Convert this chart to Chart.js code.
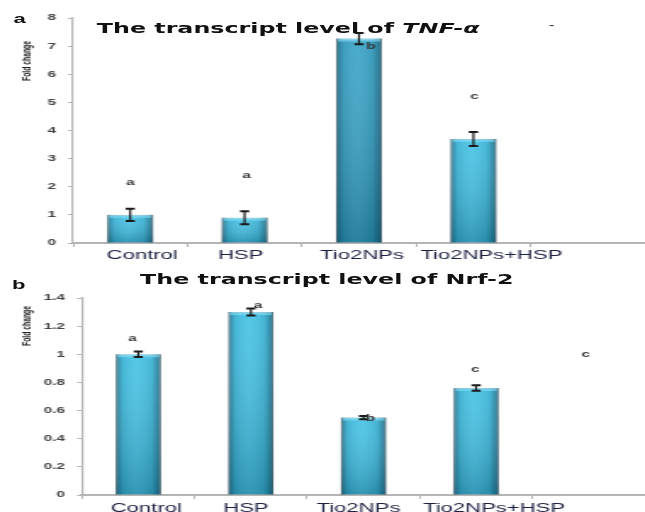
<!DOCTYPE html>
<html>
<head>
<meta charset="utf-8">
<script src="https://cdn.jsdelivr.net/npm/chart.js@4.4.0/dist/chart.umd.min.js"></script>
<style>
html, body { margin: 0; padding: 0; background: #fff; overflow: hidden; }
.panel { position: absolute; left: 0; width: 380px; transform: scaleX(1.6974); transform-origin: 0 0; }
#pa { top: 0; height: 265px; }
#pb { top: 262px; height: 250px; }
.ttl { position: absolute; font: bold 14px "DejaVu Sans"; line-height: 14px; color: #111; white-space: nowrap; z-index: 2; }
.lt { position: absolute; font: bold 13px "Liberation Sans"; line-height: 13px; color: #111; }
</style>
</head>
<body>
<div class="panel" id="pa">
  <canvas id="tnf"></canvas>
  <div class="lt" style="left:8px;top:12px">a</div>
  <div class="ttl" style="left:57px;top:20.5px">The transcript level of <i>TNF-α</i></div>
</div>
<div class="panel" id="pb">
  <canvas id="nrf"></canvas>
  <div class="lt" style="left:7px;top:16px">b</div>
  <div class="ttl" style="left:82.5px;top:10px">The transcript level of Nrf-2</div>
</div>
<script>
var categories = ['Control', 'HSP', 'Tio2NPs', 'Tio2NPs+HSP', ''];
var yTitle = 'Fold change';

// panel a - TNF-alpha
var tnfValues = [1.0, 0.9, 7.27, 3.7, null];
var tnfErrors = [0.22, 0.23, 0.2, 0.25, null];
var tnfLetters = ['a', 'a', 'b', 'c', '-'];
var tnfLetterAt = [2.14, 2.39, 7.0, 5.2, 7.75];
var tnfMax = 8, tnfStep = 1;

// panel b - Nrf-2
var nrfValues = [1.0, 1.3, 0.55, 0.76, null];
var nrfErrors = [0.02, 0.025, 0.012, 0.02, null];
var nrfLetters = ['a', 'a', 'b', 'c', 'c'];
var nrfLetterAt = [1.11, 1.35, 0.54, 0.89, 1.0];
var nrfMax = 1.4, nrfStep = 0.2;

var stretch = 1.6974;
var axisGrey = '#b5b5b5';

function extras(errors, letters, letterAt, letterDx, labelDx, labelDy, titleY) {
    return {
        id: 'extras',
        afterDatasetsDraw: function(chart) {
            var ctx = chart.ctx;
            var ys = chart.scales.y, xs = chart.scales.x;
            var meta = chart.getDatasetMeta(0);
            var vals = chart.data.datasets[0].data;
            ctx.save();
            meta.data.forEach(function(bar, i) {
                if (vals[i] == null) return;
                var p = bar.getProps(['x', 'y', 'base', 'width']);
                var l = p.x - p.width / 2, w = p.width, t = p.y, h = p.base - p.y;
                // cylinder shading
                var g = ctx.createLinearGradient(l, 0, l + w, 0);
                g.addColorStop(0, 'rgba(10,60,80,0.6)');
                g.addColorStop(0.15, 'rgba(10,60,80,0.12)');
                g.addColorStop(0.45, 'rgba(255,255,255,0.06)');
                g.addColorStop(0.8, 'rgba(10,60,80,0.12)');
                g.addColorStop(1, 'rgba(10,60,80,0.65)');
                ctx.fillStyle = g;
                ctx.fillRect(l, t, w, h);
                var gv = ctx.createLinearGradient(0, t, 0, p.base);
                gv.addColorStop(0, 'rgba(255,255,255,0.08)');
                gv.addColorStop(1, 'rgba(0,40,60,0.28)');
                ctx.fillStyle = gv;
                ctx.fillRect(l, t, w, h);
                ctx.fillStyle = 'rgba(140,225,250,0.55)';
                ctx.fillRect(l + 1, t, w - 2, 3);
                // error bar
                var e = errors[i];
                var y1 = ys.getPixelForValue(vals[i] + e), y2 = ys.getPixelForValue(vals[i] - e);
                var cw = 2.7;
                ctx.strokeStyle = '#1a1a1a';
                ctx.lineWidth = 1.2;
                ctx.beginPath();
                ctx.moveTo(p.x, y1); ctx.lineTo(p.x, y2);
                ctx.stroke();
                ctx.lineWidth = 2;
                ctx.beginPath();
                ctx.moveTo(p.x - cw, y1); ctx.lineTo(p.x + cw, y1);
                ctx.moveTo(p.x - cw, y2); ctx.lineTo(p.x + cw, y2);
                ctx.stroke();
            });
            ctx.fillStyle = '#333';
            ctx.font = 'bold 9px "Liberation Sans"';
            ctx.textAlign = 'center';
            ctx.textBaseline = 'middle';
            letters.forEach(function(s, i) {
                ctx.fillText(s, xs.getPixelForValue(i) + letterDx[i] / stretch, ys.getPixelForValue(letterAt[i]));
            });
            // category names, nudged like the original figure
            ctx.fillStyle = '#1d2142';
            ctx.font = '13px "Liberation Sans"';
            categories.forEach(function(s, i) {
                ctx.fillText(s, xs.getPixelForValue(i) + labelDx[i] / stretch, xs.top + labelDy);
            });
            // rotated y title
            ctx.translate(16.5, titleY);
            ctx.rotate(-Math.PI / 2);
            ctx.fillStyle = '#222';
            ctx.font = 'bold 6.8px "Liberation Sans"';
            ctx.fillText(yTitle, 0, 0);
            ctx.restore();
        }
    };
}

function makeChart(id, values, colors, errors, letters, letterAt, letterDx, labelDx, labelDy, titleY, yMax, yStep, padTop, yWidth, xHeight) {
    return new Chart(document.getElementById(id), {
        type: 'bar',
        data: {
            labels: categories,
            datasets: [{
                data: values,
                backgroundColor: colors,
                borderColor: '#9fb4bb',
                borderWidth: 1,
                categoryPercentage: 1,
                barPercentage: 0.4
            }]
        },
        options: {
            responsive: true,
            maintainAspectRatio: false,
            animation: false,
            layout: { padding: { top: padTop, left: 0, right: 0, bottom: 0 } },
            plugins: { legend: { display: false }, tooltip: { enabled: false } },
            scales: {
                x: {
                    grid: { drawOnChartArea: false, tickLength: 4, color: axisGrey, offset: true },
                    border: { color: axisGrey, width: 2 },
                    ticks: { display: false },
                    afterFit: function(s) { s.height = xHeight; }
                },
                y: {
                    min: 0,
                    max: yMax,
                    grid: { drawOnChartArea: false, tickLength: 3, color: axisGrey },
                    border: { color: axisGrey, width: 1.2 },
                    ticks: {
                        stepSize: yStep, color: '#444', padding: 7,
                        font: { family: 'Liberation Sans', size: 9, weight: 'bold' },
                        callback: function(v) { return String(+v.toFixed(1)); }
                    },
                    afterFit: function(s) { s.width = yWidth; }
                }
            }
        },
        plugins: [extras(errors, letters, letterAt, letterDx, labelDx, labelDy, titleY)]
    });
}

makeChart('tnf', tnfValues, ['#3bbfe4', '#3bbfe4', '#2f9fc4', '#3bbfe4', '#3bbfe4'],
    tnfErrors, tnfLetters, tnfLetterAt, [0, 2, 12, 1, -36], [12, -4, 3, 18, 0], 12.5, 61,
    tnfMax, tnfStep, 18, 43, 22);
makeChart('nrf', nrfValues, '#3bbfe4',
    nrfErrors, nrfLetters, nrfLetterAt, [-6, 7, 7, -1, -3], [8, -5, -5, 18, 0], 13, 64,
    nrfMax, nrfStep, 36, 48.3, 17);
</script>
</body>
</html>
